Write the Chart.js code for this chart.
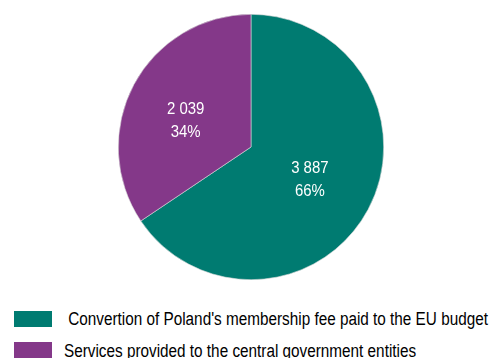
<!DOCTYPE html>
<html><head><meta charset="utf-8">
<script src="https://cdn.jsdelivr.net/npm/chart.js@4"></script>
<style>
html,body{margin:0;padding:0;background:#fff;width:492px;height:358px;overflow:hidden;position:relative;font-family:"Liberation Sans",Arial,sans-serif;}
#wrap{position:absolute;left:118px;top:14px;width:266px;height:266px;}
.box{position:absolute;left:14px;width:38px;height:16px;}
.txt{position:absolute;font-size:18px;line-height:18px;color:#000;white-space:pre;transform:scaleX(0.85);transform-origin:0 0;}
</style></head><body>
<div id="wrap"><canvas id="c"></canvas></div>
<div id="legend"></div>
<script>
const categories = ["Convertion of Poland's membership fee paid to the EU budget", "Services provided to the central government entities"];
const values = [3887, 2039];
const percentLabels = ["66%", "34%"];
const valueLabels = ["3 887", "2 039"];
const colors = ["#007b71", "#843889"];

const boxTops = [311, 342];
const textTops = [310.3, 342.3];
const lg = document.getElementById('legend');
categories.forEach((c,i)=>{
  const b=document.createElement('div');b.className='box';b.style.top=boxTops[i]+'px';b.style.background=colors[i];
  const t=document.createElement('div');t.className='txt';t.style.top=textTops[i]+'px';t.style.left='64px';
  t.textContent=(i===0?' ':'')+c;
  lg.appendChild(b);lg.appendChild(t);
});

const nudges = [[0.3,0.5],[-6.8,3.6]];
const labelPlugin = {
  id:'lbl',
  afterDatasetsDraw(chart){
    const ctx=chart.ctx;
    const meta=chart.getDatasetMeta(0);
    meta.data.forEach((arc,i)=>{
      const mid=(arc.startAngle+arc.endAngle)/2;
      const r=arc.outerRadius*0.5;
      const x=arc.x+Math.cos(mid)*r+nudges[i][0], y=arc.y+Math.sin(mid)*r+nudges[i][1];
      ctx.save();
      ctx.translate(x,y);
      ctx.scale(0.88,1);
      ctx.fillStyle='#fff';
      ctx.font='17px "Liberation Sans", Arial, sans-serif';
      ctx.textAlign='center';ctx.textBaseline='alphabetic';
      ctx.fillText(valueLabels[i],0,-5.25);
      ctx.fillText(percentLabels[i],0,17.45);
      ctx.restore();
    });
  }
};

new Chart(document.getElementById('c'),{
  type:'pie',
  data:{labels:categories,datasets:[{data:values,backgroundColor:colors,borderColor:'#d8d8d8',borderWidth:0.6}]},
  options:{responsive:true,maintainAspectRatio:false,animation:false,layout:{padding:0},
    plugins:{legend:{display:false},tooltip:{enabled:false}}},
  plugins:[labelPlugin]
});
</script>
</body></html>
